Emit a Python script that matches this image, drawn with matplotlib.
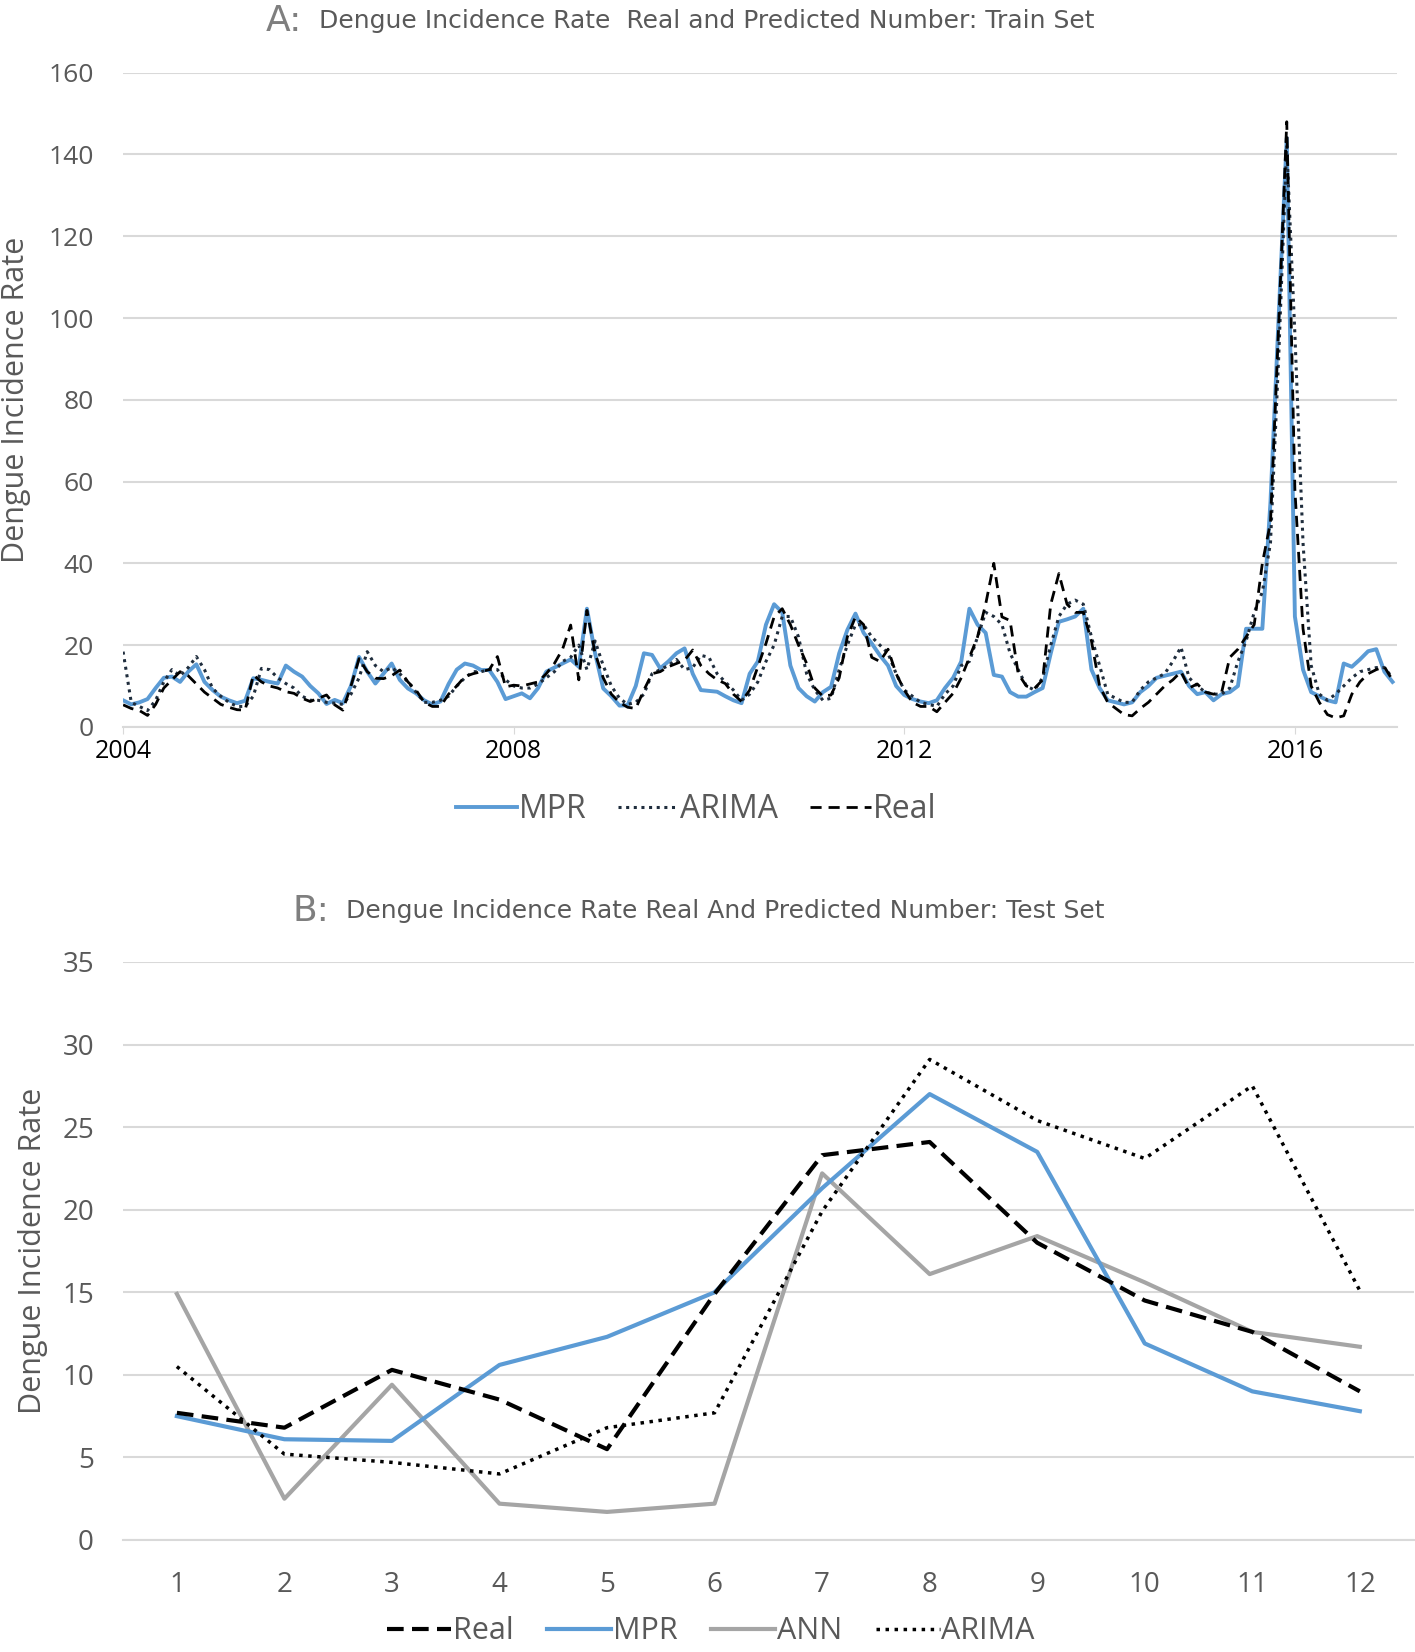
import matplotlib
matplotlib.use("Agg")
import matplotlib.pyplot as plt
from matplotlib import font_manager
import numpy as np

# ---- panel A: monthly train set, Jan 2004 onwards ----
real_a = [5.4, 4.5, 4.0, 2.8, 5.5, 9.5, 11.5, 13.5, 12.5, 10.5, 8.5, 7.0,
          5.5, 4.8, 4.2, 4.1, 12.7, 11.0, 10.0, 9.5, 8.6, 8.2, 7.0, 6.2,
          7.0, 7.8, 5.4, 4.1, 10.0, 16.7, 13.5, 11.9, 11.8, 12.5, 13.9, 11.0,
          9.0, 6.0, 5.0, 5.0, 8.0, 10.0, 12.3, 13.0, 13.5, 14.0, 17.2, 9.8,
          10.2, 10.0, 10.5, 11.0, 13.0, 15.5, 19.0, 24.9, 11.5, 28.5, 18.0, 12.0,
          8.0, 6.0, 4.8, 4.5, 9.0, 13.0, 13.5, 14.7, 15.5, 16.3, 18.8, 15.0,
          13.0, 11.5, 10.6, 8.0, 6.2, 9.0, 14.7, 20.4, 26.9, 28.9, 25.0, 20.0,
          15.5, 9.5, 7.5, 7.8, 12.0, 22.0, 26.9, 25.0, 17.0, 16.0, 19.0, 13.0,
          9.0, 6.0, 5.0, 5.0, 3.7, 6.0, 8.2, 12.0, 17.0, 22.0, 30.0, 40.0,
          26.9, 26.0, 13.0, 10.0, 9.4, 11.5, 30.0, 37.5, 30.0, 28.0, 28.0, 21.0,
          10.0, 6.0, 4.5, 3.0, 2.7, 4.5, 6.0, 8.0, 10.0, 11.5, 13.5, 9.5,
          10.5, 8.5, 8.0, 8.5, 17.0, 19.0, 22.0, 25.0, 40.0, 50.0, 98.0, 148.0,
          58.0, 24.0, 10.0, 6.0, 3.0, 2.2, 2.7, 8.0, 11.0, 13.0, 14.0, 14.7,
          11.4]
mpr_a = [6.5, 5.5, 6.0, 6.8, 9.5, 12.0, 12.3, 11.0, 13.5, 15.3, 11.0, 9.0,
         7.4, 6.5, 5.8, 6.4, 11.9, 11.5, 11.0, 10.6, 15.0, 13.5, 12.3, 10.0,
         8.2, 5.6, 6.6, 5.8, 10.0, 17.1, 13.5, 10.6, 13.0, 15.5, 11.5, 9.4,
         8.2, 6.5, 5.5, 6.2, 10.5, 14.0, 15.5, 15.0, 13.9, 13.9, 11.0, 6.8,
         7.5, 8.2, 7.0, 9.5, 13.5, 14.5, 15.5, 16.5, 14.7, 28.9, 18.0, 9.4,
         7.5, 5.2, 5.3, 10.0, 18.0, 17.6, 14.3, 16.0, 18.0, 19.2, 13.0, 9.0,
         8.8, 8.6, 7.5, 6.5, 5.8, 13.0, 16.0, 25.0, 30.0, 28.0, 15.0, 9.5,
         7.5, 6.2, 8.5, 9.8, 18.0, 23.7, 27.7, 23.0, 20.4, 17.5, 15.0, 10.0,
         7.8, 6.8, 6.2, 5.8, 6.5, 9.5, 12.0, 16.0, 28.9, 25.0, 23.0, 12.7,
         12.3, 8.5, 7.4, 7.4, 8.5, 9.5, 18.0, 25.7, 26.3, 27.0, 28.9, 14.0,
         9.5, 6.5, 6.0, 5.5, 6.0, 8.5, 10.0, 12.0, 12.5, 13.0, 13.5, 10.0,
         8.0, 8.5, 6.5, 8.0, 8.5, 10.0, 24.0, 24.0, 24.0, 55.0, 100.0, 144.0,
         27.0, 14.0, 8.5, 7.5, 6.5, 6.0, 15.5, 14.7, 16.5, 18.5, 19.0, 13.5,
         11.0]
arima_a = [18.4, 6.0, 5.0, 4.0, 6.5, 11.0, 14.0, 12.5, 14.5, 17.2, 14.0, 9.4,
           7.5, 6.0, 5.0, 5.0, 7.5, 14.3, 14.0, 12.0, 10.6, 9.5, 7.5, 6.5,
           6.5, 6.0, 5.8, 5.5, 8.0, 12.0, 18.4, 15.0, 13.5, 14.5, 13.0, 11.0,
           8.5, 6.0, 6.0, 6.5, 7.5, 10.0, 12.0, 13.5, 13.5, 14.0, 14.0, 11.5,
           10.0, 9.5, 9.5, 10.5, 12.0, 13.5, 16.0, 17.0, 20.0, 14.0, 21.0, 15.0,
           10.0, 7.0, 5.5, 6.0, 8.0, 13.0, 14.0, 15.0, 16.5, 14.0, 14.5, 17.5,
           17.0, 13.0, 11.0, 9.0, 6.5, 8.0, 11.0, 16.0, 20.0, 27.0, 27.0, 22.0,
           13.0, 9.0, 6.5, 7.0, 14.0, 20.0, 25.0, 25.0, 22.0, 20.0, 18.0, 13.0,
           9.0, 7.5, 6.0, 5.5, 5.0, 8.0, 10.0, 15.0, 16.0, 22.0, 28.0, 27.0,
           25.0, 18.0, 14.0, 10.0, 9.0, 12.0, 20.0, 27.0, 30.0, 31.0, 30.0, 22.0,
           15.0, 8.0, 7.0, 6.0, 6.0, 9.0, 11.0, 12.0, 13.0, 16.0, 19.5, 12.0,
           10.0, 8.5, 8.0, 8.0, 9.5, 16.0, 21.0, 28.0, 33.0, 45.0, 90.0, 142.0,
           96.0, 45.0, 15.0, 8.0, 6.5, 8.0, 10.0, 12.0, 13.5, 14.0, 14.5, 14.5,
           12.0]
year_labels = ["2004", "2008", "2012", "2016"]

# ---- panel B: test set, 12 months ----
months_b = list(range(1, 13))
real_b = [7.7, 6.8, 10.3, 8.5, 5.5, 14.9, 23.3, 24.1, 18.0, 14.5, 12.6, 9.0]
mpr_b = [7.5, 6.1, 6.0, 10.6, 12.3, 15.0, 21.3, 27.0, 23.5, 11.9, 9.0, 7.8]
ann_b = [14.9, 2.5, 9.4, 2.2, 1.7, 2.2, 22.2, 16.1, 18.4, 15.6, 12.6, 11.7]
arima_b = [10.5, 5.2, 4.7, 4.0, 6.8, 7.7, 19.9, 29.1, 25.4, 23.1, 27.5, 15.1]

BLUE = "#5b9bd5"
GREY = "#a5a5a5"
TXT = "#595959"
GRID = "#d9d9d9"

names = {f.name for f in font_manager.fontManager.ttflist}
narrow = "Liberation Sans Narrow" if "Liberation Sans Narrow" in names else "DejaVu Sans"
plt.rcParams["font.family"] = ["Open Sans", "DejaVu Sans"]

fig = plt.figure(figsize=(14.15, 16.52), dpi=100)


def style_axes(ax, size):
    for s in ["top", "right", "left"]:
        ax.spines[s].set_visible(False)
    ax.spines["bottom"].set_color(GRID)
    ax.spines["bottom"].set_linewidth(1.5)
    ax.grid(axis="y", color=GRID, linewidth=1.5)
    ax.set_axisbelow(True)
    ax.tick_params(axis="y", length=0, labelsize=size, labelcolor=TXT, pad=21)


# ---- A ----
ax1 = fig.add_axes([0.087, 0.560, 0.900, 0.396])
x = np.arange(len(real_a))
ax1.plot(x, mpr_a, color=BLUE, lw=2.8, label="MPR", zorder=2)
ax1.plot(x, arima_a, color="#1f2d3d", lw=2.2, ls=(0, (1, 1.5)), label="ARIMA", zorder=3)
ax1.plot(x, real_a, color="black", lw=2.0, ls=(0, (4, 2.5)), label="Real", zorder=4)
ax1.set_ylim(0, 160)
ax1.set_yticks(range(0, 161, 20))
ax1.set_xlim(0, len(real_a) - 0.5)
ax1.set_xticks([0, 48, 96, 144])
ax1.set_xticklabels(year_labels)
ax1.tick_params(axis="x", length=5, color=GRID, labelsize=18, labelcolor="black", pad=4)
style_axes(ax1, 19)
ax1.set_ylabel("Dengue Incidence Rate", fontsize=22, color=TXT)
ax1.yaxis.set_label_coords(-0.072, 0.5)
ax1.legend(loc="center", bbox_to_anchor=(0.492, 0.5097), bbox_transform=fig.transFigure,
           ncol=3, frameon=False, fontsize=23, handlelength=1.9, handletextpad=0.05,
           columnspacing=1.0, labelcolor=TXT)

fig.text(0.1875, 0.9875, "A:", fontsize=26, color="#7f7f7f", family=narrow, va="center")
fig.text(0.2255, 0.9875, "Dengue Incidence Rate  Real and Predicted Number: Train Set",
         fontsize=18, color=TXT, family=narrow, va="center")

# ---- B ----
ax2 = fig.add_axes([0.087, 0.0678, 0.912, 0.3499])
ax2.plot(months_b, real_b, color="black", lw=3.0, ls=(0, (4, 2)), label="Real", zorder=4)
ax2.plot(months_b, mpr_b, color=BLUE, lw=3.0, label="MPR", zorder=3)
ax2.plot(months_b, ann_b, color=GREY, lw=3.0, label="ANN", zorder=2)
ax2.plot(months_b, arima_b, color="black", lw=2.5, ls=(0, (1, 1.6)), label="ARIMA", zorder=5)
ax2.set_ylim(0, 35)
ax2.set_yticks(range(0, 36, 5))
ax2.set_xlim(0.5, 12.5)
ax2.set_xticks(months_b)
ax2.tick_params(axis="x", length=0, labelsize=20, labelcolor=TXT, pad=22)
style_axes(ax2, 20)
ax2.set_ylabel("Dengue Incidence Rate", fontsize=22, color=TXT)
ax2.yaxis.set_label_coords(-0.058, 0.5)
ax2.legend(loc="center", bbox_to_anchor=(0.5025, 0.0125), bbox_transform=fig.transFigure,
           ncol=4, frameon=False, fontsize=22, handlelength=2.1, handletextpad=0.05,
           columnspacing=1.1, labelcolor=TXT, borderpad=0.2)

fig.text(0.207, 0.4487, "B:", fontsize=26, color="#7f7f7f", family=narrow, va="center")
fig.text(0.2445, 0.4487, "Dengue Incidence Rate Real And Predicted Number: Test Set",
         fontsize=18, color=TXT, family=narrow, va="center")

fig.savefig("out.png", dpi=100)
